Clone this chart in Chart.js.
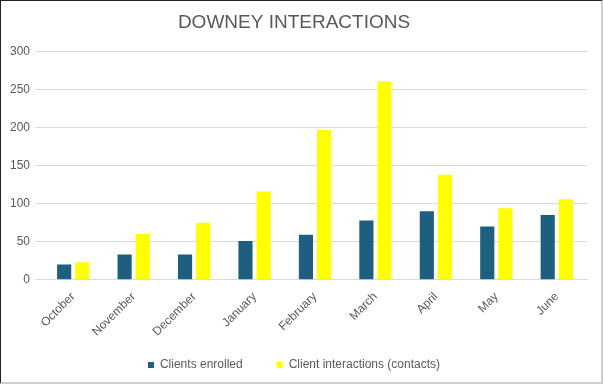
<!DOCTYPE html>
<html>
<head>
<meta charset="utf-8">
<script src="https://cdn.jsdelivr.net/npm/chart.js@4"></script>
<style>
html,body{margin:0;padding:0;background:#fff;}
#wrap{position:relative;width:603px;height:384px;box-sizing:border-box;border-top:1px solid #222;border-left:1px solid #222;border-right:2px solid #d0d0d0;border-bottom:2px solid #d0d0d0;}
canvas{display:block;}
</style>
</head>
<body>
<div id="wrap"><canvas id="c" width="600" height="381"></canvas></div>
<script>
const months = ["October","November","December","January","February","March","April","May","June"];
const clientsEnrolled = [20, 33, 33, 51, 59, 78, 90, 70, 85];
const clientInteractions = [23, 60, 75, 116, 197, 261, 138, 94, 106];
const seriesNames = ["Clients enrolled", "Client interactions (contacts)"];
const yTicks = [0, 50, 100, 150, 200, 250, 300];

Chart.defaults.font.family = "'Liberation Sans', Arial, sans-serif";
Chart.defaults.color = "#595959";

const legendShift = {
  id: 'legendShift',
  afterLayout(chart) {
    if (chart.legend) { chart.legend.top -= 16; }
  }
};

new Chart(document.getElementById('c'), {
  type: 'bar',
  data: {
    labels: months,
    datasets: [
      {label: seriesNames[0], data: clientsEnrolled, backgroundColor: '#1E5E7E', categoryPercentage: 0.6, barPercentage: 0.78},
      {label: seriesNames[1], data: clientInteractions, backgroundColor: '#FFFF00', categoryPercentage: 0.6, barPercentage: 0.78}
    ]
  },
  plugins: [legendShift],
  options: {
    responsive: false,
    animation: false,
    layout: {padding: {left: 0, right: 14, top: 0, bottom: 0}},
    plugins: {
      title: {display: true, text: 'DOWNEY INTERACTIONS', color: '#595959', font: {size: 19, weight: 'normal'}, padding: {top: 10, bottom: 18}},
      legend: {position: 'bottom', maxHeight: 41, labels: {boxWidth: 6, boxHeight: 6, padding: 34, font: {size: 12}, color: '#595959'}},
      tooltip: {enabled: false}
    },
    scales: {
      x: {
        grid: {display: false},
        border: {color: '#d9d9d9'},
        ticks: {minRotation: 45, maxRotation: 45, font: {size: 12}, color: '#595959', padding: 2}
      },
      y: {
        min: 0, max: 300,
        afterBuildTicks: s => { s.ticks = yTicks.map(v => ({value: v})); },
        afterFit: s => { s.width = 42; },
        grid: {color: '#d9d9d9'},
        border: {display: false},
        ticks: {font: {size: 12}, color: '#595959', padding: 5}
      }
    }
  }
});
</script>
</body>
</html>
